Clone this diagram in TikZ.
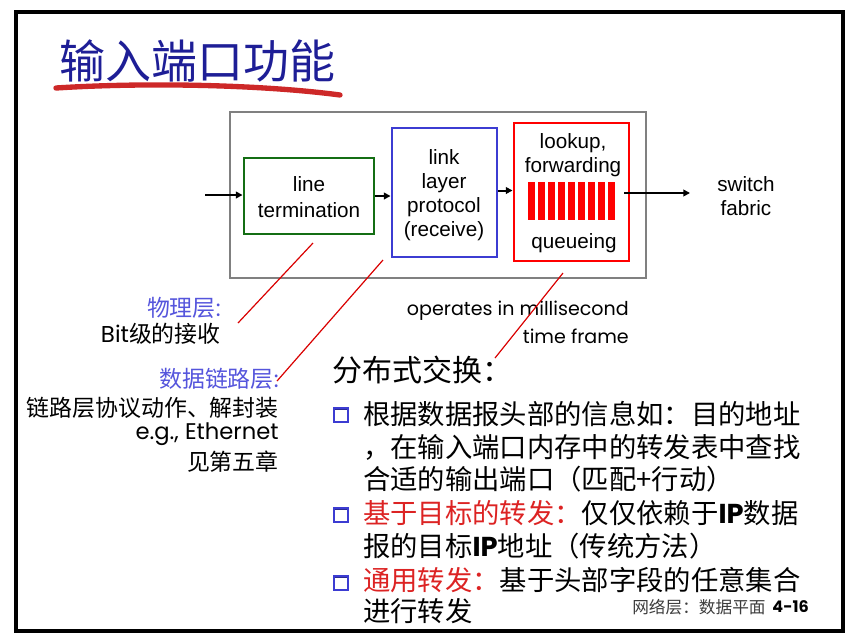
\documentclass[tikz,border=0pt]{standalone}
\usepackage{fontspec}
\setmainfont{Liberation Sans}
\newfontfamily\cjk{Noto Sans CJK SC}
\newfontfamily\comic{Poppins}
\usetikzlibrary{arrows.meta,fit}

\definecolor{titleblue}{RGB}{30,30,150}
\definecolor{labelblue}{RGB}{85,85,220}
\definecolor{boxgreen}{RGB}{20,110,20}
\definecolor{boxblue}{RGB}{60,60,210}
\definecolor{hlred}{RGB}{220,35,35}
\definecolor{ulred}{RGB}{205,40,40}
\definecolor{footgray}{RGB}{60,60,60}

\tikzset{
  stagebox/.style={draw, line width=2.2pt, inner sep=0pt},
  flow/.style={line width=1.5pt, -{Triangle[length=5pt,width=5pt]}},
  pointer/.style={draw=red!85!black, line width=0.9pt},
  arial/.style={font=\fontsize{15.5}{18}\selectfont, align=center, inner sep=0pt},
  sidenote/.style={anchor=east, inner sep=0pt, font=\cjk\fontsize{17.2}{20}\selectfont},
  bodyline/.style={anchor=west, inner sep=0pt, font=\cjk\fontsize{20.5}{24}\selectfont},
  bulletsq/.style={draw=boxblue, line width=1.6pt, minimum size=10.5pt, inner sep=0pt, path picture={\draw[boxblue!70!black, line width=2.8pt] (path picture bounding box.north west) -- (path picture bounding box.north east);}},
}

\begin{document}
\begin{tikzpicture}[x=0.75pt, y=-0.75pt]
\useasboundingbox (0,0) rectangle (855,640);

% slide frame
\draw[line width=3pt] (16,12) rectangle (843,631);

% heading with brush underline
\node[anchor=west, inner sep=0pt, text=titleblue, font=\cjk\fontsize{34.5}{40}\selectfont] (title) at (59,61) {输入端口功能};
\draw[ulred, line width=4pt, line cap=round] (56,88) .. controls (150,82) and (265,85) .. (340,95);

% input port enclosure
\node[draw=gray, line width=1.5pt, inner sep=0pt, fit={(230,112) (646,278)}] (port) {};

% the three stages
\node[stagebox, draw=boxgreen, fit={(244,158) (374,234)}] (lineterm) {};
\node[stagebox, draw=boxblue, fit={(392,128) (497,257)}] (linklayer) {};
\node[stagebox, draw=red, fit={(514,123) (629,261)}] (lookup) {};

\node[arial] (ltText) at (309,197) {line\\[1pt]termination};
\node[arial] (llText) at (444,195) {link\\layer\\protocol\\(receive)};
\node[arial] (luText) at (573,155) {lookup,\\forwarding};
\node[arial] (quText) at (574,243) {queueing};

% queue slots
\foreach \i in {0,...,8}
  \fill[red] (528+10.05*\i,182) rectangle ++(6.7,38);

% data flow
\coordinate (inStart) at (205,195);
\coordinate (outStart) at (624,193);
\coordinate (outEnd) at (690,193);
\draw[flow] (inStart) -- (inStart -| lineterm.west);
\draw[flow] (lineterm.east) -- (lineterm.east -| linklayer.west);
\draw[flow] ([yshift=1.5pt]linklayer.east) -- ([yshift=1.5pt]linklayer.east -| lookup.west);
\draw[flow] (outStart) -- (outEnd);

\node[arial] (fabric) at (746,196) {switch\\fabric};

% layer notes on the left
\node[sidenote, text=labelblue] (phy) at (221,308) {物理层{\comic :}};
\node[sidenote] (phyBit) at (221,334) {{\comic Bit}级的接收};
\node[sidenote, text=labelblue] (dll) at (279,379) {数据链路层{\comic :}};
\node[sidenote] (dllAct) at (279,408) {链路层协议动作、解封装};
\node[sidenote, font=\comic\fontsize{17}{20}\selectfont] (dllEth) at (279,434) {e.g., Ethernet};
\node[sidenote] (dllCh) at (279,462) {见第五章};

% timing note
\node[anchor=east, inner sep=0pt, font=\comic\fontsize{14.3}{17}\selectfont] (ops) at (629,311) {operates in millisecond};
\node[anchor=east, inner sep=0pt, font=\comic\fontsize{14.3}{17}\selectfont] (opsTime) at (629,336) {time frame};

% leader lines
\coordinate (ptA1) at (313,243);
\coordinate (ptA2) at (238,323);
\coordinate (ptB1) at (383,260);
\coordinate (ptB2) at (277,381);
\coordinate (ptC1) at (563,273);
\coordinate (ptC2) at (495,358);
\draw[pointer] (ptA1) -- (ptA2);
\draw[pointer] (ptB1) -- (ptB2);
\draw[pointer] (ptC1) -- (ptC2);

% decentralized switching
\node[anchor=west, inner sep=0pt, font=\cjk\fontsize{22.5}{27}\selectfont] (dist) at (332,370) {分布式交换：};

\node[bulletsq] (b1) at (341,415) {};
\node[bodyline] (l1a) at (363,414) {根据数据报头部的信息如：目的地址};
\node[bodyline] (l1b) at (363,447) {，在输入端口内存中的转发表中查找};
\node[bodyline] (l1c) at (363,479) {合适的输出端口（匹配+行动）};

\node[bulletsq] (b2) at (341,515) {};
\node[bodyline] (l2a) at (363,513) {\textcolor{hlred}{基于目标的转发：}仅仅依赖于{\comic\bfseries IP}数据};
\node[bodyline] (l2b) at (363,546) {报的目标{\comic\bfseries IP}地址（传统方法）};

\node[bulletsq] (b3) at (341,583) {};
\node[bodyline] (l3a) at (363,580) {\textcolor{hlred}{通用转发：}基于头部字段的任意集合};
\node[bodyline] (l3b) at (363,611) {进行转发};

% footer
\node[anchor=west, inner sep=0pt, text=footgray, font=\cjk\fontsize{12.5}{15}\selectfont] (foot) at (632,607) {网络层：数据平面};
\node[anchor=east, inner sep=0pt, font=\comic\bfseries\fontsize{12}{14}\selectfont] (page) at (809,607) {4-16};
\end{tikzpicture}
\end{document}
